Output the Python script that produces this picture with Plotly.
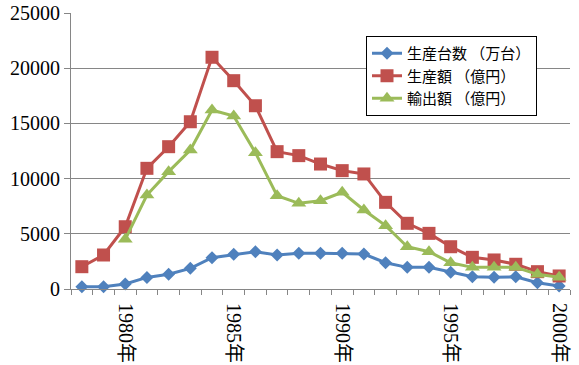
import plotly.graph_objects as go

years = [1978, 1979, 1980, 1981, 1982, 1983, 1984, 1985, 1986, 1987, 1988, 1989,
         1990, 1991, 1992, 1993, 1994, 1995, 1996, 1997, 1998, 1999, 2000]
units = [200, 200, 450, 1050, 1330, 1870, 2840, 3140, 3380, 3080, 3230, 3230,
         3230, 3170, 2380, 1960, 1960, 1510, 1110, 1060, 1110, 570, 270]
production = [2020, 3080, 5640, 10930, 12890, 15150, 20990, 18870, 16600, 12440, 12080, 11320,
              10720, 10420, 7850, 5950, 5040, 3830, 2870, 2630, 2240, 1570, 1180]
exports = [None, None, 4500, 8510, 10630, 12590, 16210, 15670, 12350, 8450, 7760, 8000,
           8760, 7160, 5740, 3830, 3380, 2380, 1960, 1960, 1960, 1330, 1060]
label_years = [1980, 1985, 1990, 1995, 2000]
label_text = ["1980年", "1985年", "1990年", "1995年", "2000年"]
series_names = ["生産台数 （万台）", "生産額 （億円）", "輸出額 （億円）"]

colors = ["#4F81BD", "#C0504D", "#9BBB59"]
symbols = ["diamond", "square", "triangle-up"]
sizes = [10, 13, 13]

fig = go.Figure()
for i, (name, vals) in enumerate(zip(series_names, [units, production, exports])):
    fig.add_trace(go.Scatter(
        x=years, y=vals, name=name, mode="lines+markers",
        line=dict(color=colors[i], width=3),
        marker=dict(symbol=symbols[i], size=sizes[i], color=colors[i]),
        cliponaxis=False, legendgroup=f"g{i}",
    ))

grid = "#868686"
boundaries = [years[0] - 0.5 + k for k in range(len(years) + 1)]

fig.update_layout(
    width=579, height=365,
    margin=dict(l=71, r=9, t=13, b=76),
    paper_bgcolor="white", plot_bgcolor="white",
    showlegend=True,
    legend=dict(
        x=(366 - 71) / 499, y=(289 - 36) / 276, xanchor="left", yanchor="top",
        bordercolor="black", borderwidth=1, bgcolor="white",
        font=dict(family="Noto Sans CJK JP", size=15, color="black"),
        tracegroupgap=0,
    ),
    xaxis=dict(
        range=[years[0] - 0.5, years[-1] + 0.5],
        tickmode="array", tickvals=label_years, ticktext=label_text,
        tickangle=90, ticks="", showgrid=False,
        showline=True, linecolor=grid, linewidth=1,
        tickfont=dict(family="Liberation Serif, Noto Sans CJK JP", size=20, color="black"),
        ticklabelstandoff=9,
        minor=dict(tickmode="array", tickvals=boundaries, ticks="outside",
                   ticklen=5, tickcolor=grid, tickwidth=1, showgrid=False),
        zeroline=False, automargin=False,
    ),
    yaxis=dict(
        range=[0, 25000], dtick=5000, tick0=0, tickformat="d",
        showgrid=True, gridcolor=grid, gridwidth=1,
        showline=True, linecolor=grid, linewidth=1,
        ticks="outside", ticklen=6, tickcolor=grid,
        tickfont=dict(family="Liberation Serif", size=20, color="black"),
        zeroline=False, automargin=False,
    ),
)

fig.write_html(
    "out.html",
    config={"displayModeBar": False},
    post_script="document.body.style.margin='0';document.body.style.overflow='hidden';",
)
